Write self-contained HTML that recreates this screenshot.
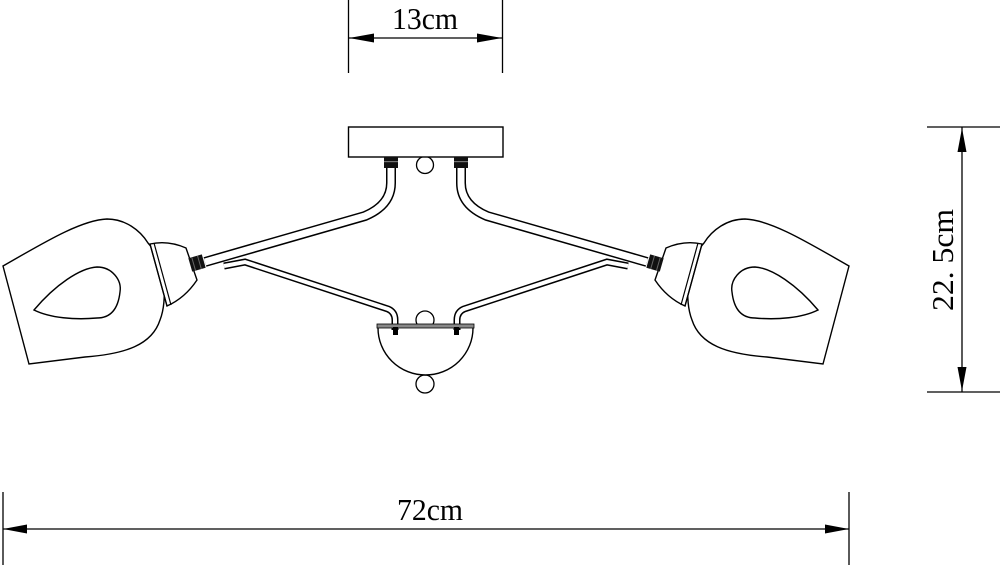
<!DOCTYPE html>
<html><head><meta charset="utf-8"><style>html,body{margin:0;padding:0;background:#fff}svg{display:block}</style></head>
<body>
<svg width="1000" height="567" viewBox="0 0 1000 567" xmlns="http://www.w3.org/2000/svg">
<defs>
<g id="half">
  <path d="M205,262 L365,216 Q391,205 391,183 L391,165" fill="none" stroke="#000" stroke-width="10"/>
  <path d="M205,262 L365,216 Q391,205 391,183 L391,165" fill="none" stroke="#fff" stroke-width="7"/>
  <path d="M224,266 L245,262 L388,309 Q395,312 395,320 L395,330" fill="none" stroke="#000" stroke-width="7"/>
  <path d="M224,266 L245,262 L388,309 Q395,312 395,320 L395,330" fill="none" stroke="#fff" stroke-width="4"/>
  <path d="M3,266 C40,245 80,220 107,219 C125,219 140,230 148,243 C165,262 168,300 160,320 C152,345 125,354 85,357 L29,364 Z" fill="#fff" stroke="#000" stroke-width="1.4"/>
  <path d="M34,310 C55,285 80,268 97,267 C112,267 122,280 120,292 C118,310 110,318 97,318 C75,320 50,318 34,310 Z" fill="none" stroke="#000" stroke-width="1.4"/>
  <path d="M150,244 Q168,240 186,248 L197,280 Q185,298 167,306 Z" fill="#fff" stroke="#000" stroke-width="1.4"/>
  <path d="M150,244 L167,306 M154,243 L171,305" stroke="#000" stroke-width="1.2"/>
  <g transform="translate(197,263) rotate(-16)"><rect x="-7" y="-7" width="14" height="14" fill="#111"/><rect x="-4" y="-7" width="1" height="14" fill="#666"/><rect x="2" y="-7" width="1" height="14" fill="#666"/></g>
  <rect x="384" y="157" width="14" height="11" fill="#111"/><rect x="384" y="161" width="14" height="1.2" fill="#777"/>
</g>
</defs>
<circle cx="425" cy="165" r="8.5" fill="#fff" stroke="#000" stroke-width="1.3"/>
<circle cx="425" cy="320" r="9" fill="#fff" stroke="#000" stroke-width="1.3"/>
<circle cx="425" cy="384" r="9" fill="#fff" stroke="#000" stroke-width="1.3"/>
<rect x="348.5" y="127" width="154.5" height="30" fill="#fff" stroke="#000" stroke-width="1.4"/>
<path d="M378,328 A47.5,47 0 0 0 473,328" fill="#fff" stroke="#000" stroke-width="1.4"/>
<use href="#half"/>
<use href="#half" transform="translate(852,0) scale(-1,1)"/>
<rect x="377" y="324" width="97" height="4" fill="#888" stroke="#000" stroke-width="0.8"/>
<rect x="393" y="327" width="5" height="8" fill="#000"/><rect x="454" y="327" width="5" height="8" fill="#000"/>

<g stroke="#000" stroke-width="1.3">
<line x1="348.5" y1="0" x2="348.5" y2="73"/><line x1="502.5" y1="0" x2="502.5" y2="73"/>
<line x1="349" y1="38" x2="502" y2="38"/>
<line x1="3" y1="492" x2="3" y2="565"/><line x1="849" y1="492" x2="849" y2="565"/>
<line x1="3" y1="529" x2="849" y2="529"/>
<line x1="927" y1="127" x2="1000" y2="127"/><line x1="927" y1="392" x2="1000" y2="392"/>
<line x1="962" y1="127" x2="962" y2="392"/>
</g>
<g fill="#000">
<path d="M349,38 L374,33.5 L374,42.5 Z"/><path d="M502,38 L477,33.5 L477,42.5 Z"/>
<path d="M3,529 L27,524.5 L27,533.5 Z"/><path d="M849,529 L825,524.5 L825,533.5 Z"/>
<path d="M962,128 L957.5,152 L966.5,152 Z"/><path d="M962,391 L957.5,367 L966.5,367 Z"/>
</g>
<g font-family="'Liberation Serif', serif" font-size="31" fill="#000">
<text x="392" y="29" textLength="66" lengthAdjust="spacingAndGlyphs">13cm</text>
<text x="397" y="520" textLength="66" lengthAdjust="spacingAndGlyphs">72cm</text>
<text transform="translate(953,311) rotate(-90)" x="0" y="0" textLength="102" lengthAdjust="spacingAndGlyphs">22. 5cm</text>
</g>
</svg>
</body></html>
